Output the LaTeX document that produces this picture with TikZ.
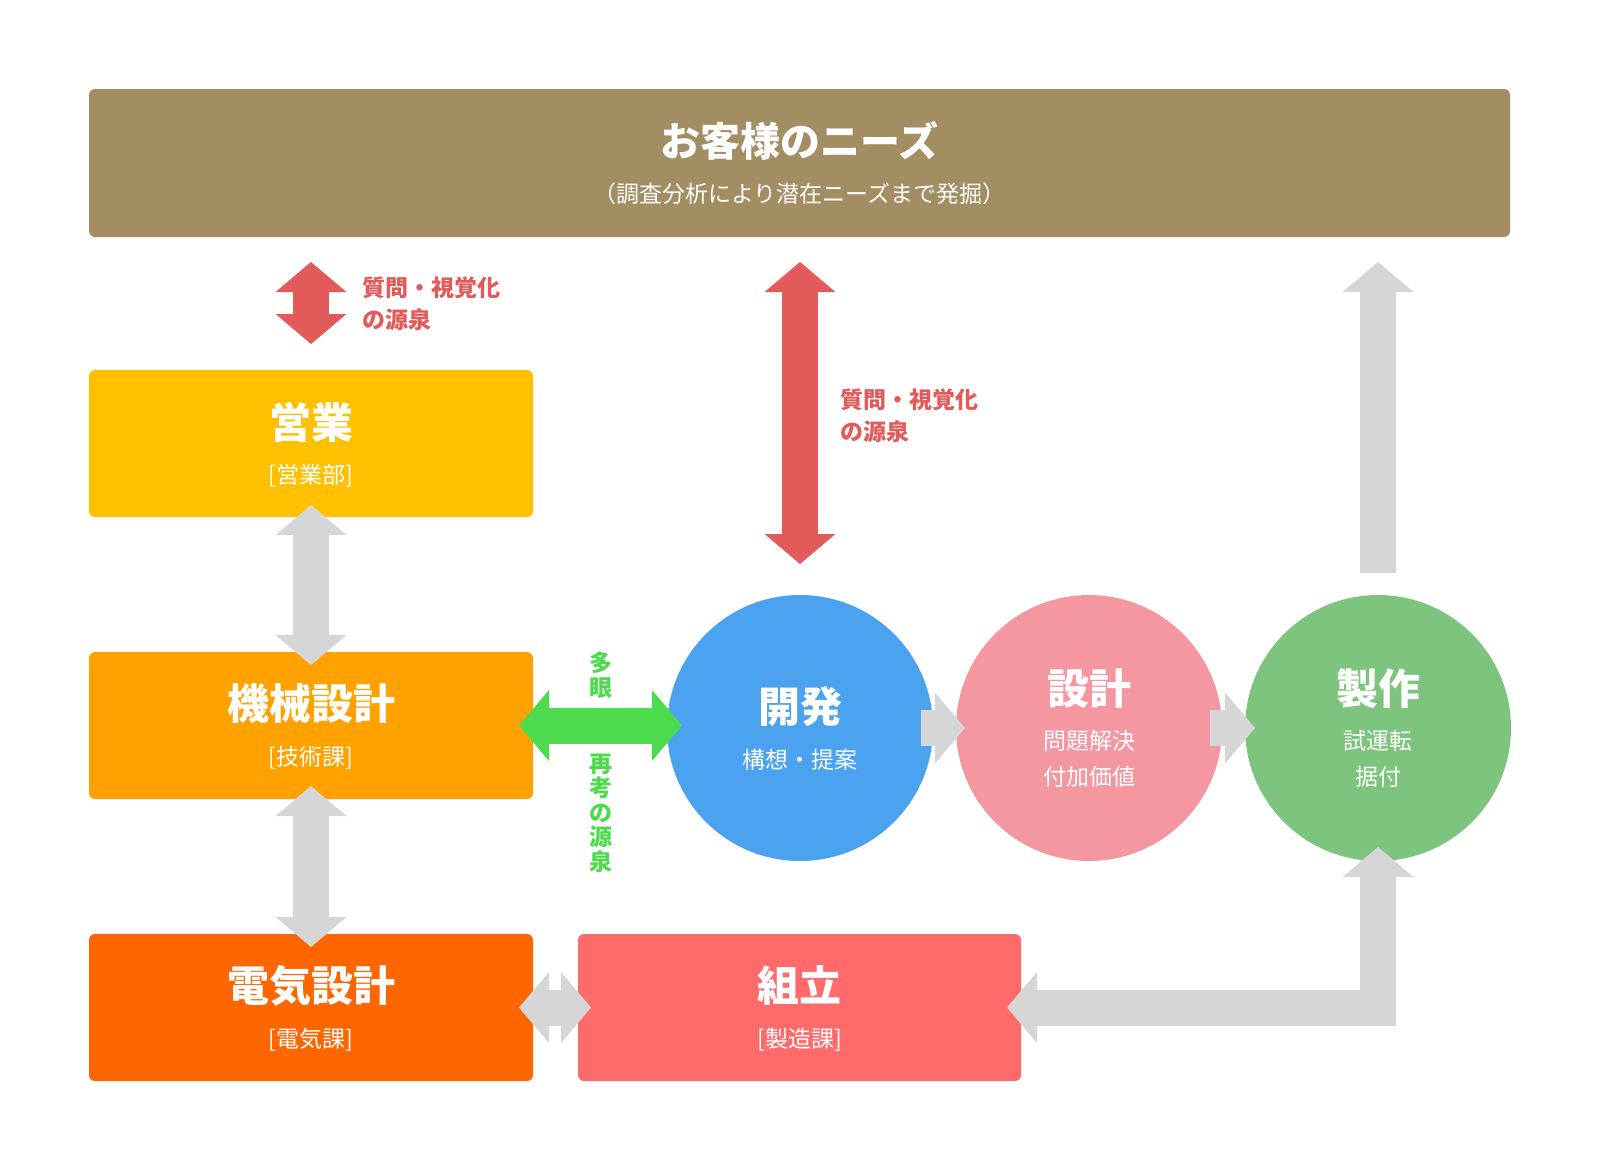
\documentclass[tikz,border=0pt]{standalone}
\usepackage{fontspec}
\setmainfont{Noto Sans CJK JP}
\usetikzlibrary{arrows.meta}
\definecolor{needsbrown}{HTML}{A38D62}
\definecolor{eigyoyellow}{HTML}{FFC000}
\definecolor{kikaiorange}{HTML}{FFA200}
\definecolor{denkiorange}{HTML}{FF6600}
\definecolor{kumitatered}{HTML}{FF6B6B}
\definecolor{kaihatsublue}{HTML}{4BA3F0}
\definecolor{sekkeipink}{HTML}{F497A1}
\definecolor{seisakugreen}{HTML}{7DC47F}
\definecolor{askred}{HTML}{E35A5A}
\definecolor{viewgreen}{HTML}{4CDB4C}
\definecolor{flowgray}{HTML}{D6D6D6}

\begin{document}
\begin{tikzpicture}[x=1pt, y=-1pt,
     >={Triangle[width=71pt, length=30pt, line width=0pt]},
     every node/.style = {inner sep=0pt, outer sep=0pt, text=white},
     dept/.style = {rectangle, rounded corners=6pt,
          minimum width=444pt, minimum height=147pt},
     stage/.style = {circle, minimum size=266pt},
     headline/.style = {font=\fontsize{42}{50}\selectfont\bfseries},
     subline/.style = {font=\fontsize{23}{36}\selectfont, align=center},
     fatline/.style = {line width=36pt},
     asklabel/.style = {text=askred, align=left,
          font=\fontsize{23}{32}\selectfont\bfseries},
     viewlabel/.style = {text=viewgreen, align=center,
          font=\fontsize{23}{24.5}\selectfont\bfseries}]
    \useasboundingbox (0,0) rectangle (1600,1170);

    \node [dept, fill=needsbrown, minimum width=1421pt, minimum height=148pt]
        at (799.5,163) (needs) {};
    \node [font=\fontsize{40}{48}\selectfont\bfseries]
        at ([yshift=22pt]needs.center) (needs-t) {お客様のニーズ};
    \node [font=\fontsize{23}{26}\selectfont]
        at ([yshift=-31pt]needs.center) (needs-s) {（調査分析により潜在ニーズまで発掘）};

    \node [dept, fill=eigyoyellow] at (311,443.5) (eigyo) {};
    \node [headline] at ([yshift=21.5pt]eigyo.center) (eigyo-t) {営業};
    \node [subline] at ([yshift=-32.5pt]eigyo.center) (eigyo-s) {[営業部]};

    \node [dept, fill=kikaiorange] at (311,725.5) (kikai) {};
    \node [headline] at ([yshift=21.5pt]kikai.center) (kikai-t) {機械設計};
    \node [subline] at ([yshift=-32.5pt]kikai.center) (kikai-s) {[技術課]};

    \node [dept, fill=denkiorange] at (311,1007.5) (denki) {};
    \node [headline] at ([yshift=21.5pt]denki.center) (denki-t) {電気設計};
    \node [subline] at ([yshift=-32.5pt]denki.center) (denki-s) {[電気課]};

    \node [dept, fill=kumitatered, minimum width=443pt]
        at (799.5,1007.5) (kumitate) {};
    \node [headline] at ([yshift=21.5pt]kumitate.center) (kumitate-t) {組立};
    \node [subline] at ([yshift=-32.5pt]kumitate.center) (kumitate-s) {[製造課]};

    \node [stage, fill=kaihatsublue] at (800,728) (kaihatsu) {};
    \node [headline] at ([yshift=21pt]kaihatsu.center) (kaihatsu-t) {開発};
    \node [subline] at ([yshift=-32pt]kaihatsu.center) (kaihatsu-s) {構想・提案};

    \node [stage, fill=sekkeipink] at (1089,728) (sekkei) {};
    \node [headline] at ([yshift=39pt]sekkei.center) (sekkei-t) {設計};
    \node [subline] at ([yshift=-31pt]sekkei.center) (sekkei-s) {問題解決\\付加価値};

    \node [stage, fill=seisakugreen] at (1378,728) (seisaku) {};
    \node [headline] at ([yshift=39pt]seisaku.center) (seisaku-t) {製作};
    \node [subline] at ([yshift=-31pt]seisaku.center) (seisaku-s) {試運転\\据付};

    \node [asklabel, anchor=west] at (362,304) (ask1) {質問・視覚化\\の源泉};
    \node [asklabel, anchor=west] at (840,415.5) (ask2) {質問・視覚化\\の源泉};
    \node [viewlabel] at (601,675) (view1) {多\\眼};
    \node [viewlabel] at (601,813) (view2) {再\\考\\の\\源\\泉};

    \coordinate (ask-top) at (eigyo.north |- needs.south);
    \coordinate (dev-top) at (kaihatsu.north |- needs.south);
    \coordinate (make-top) at (seisaku.north |- needs.south);
    \coordinate (dev-left) at (kikai.east -| kaihatsu.west);

    \draw [fatline, askred, <->] ([yshift=-25pt]ask-top) -- ([yshift=26pt]eigyo.north);
    \draw [fatline, askred, <->] ([yshift=-25pt]dev-top) -- ([yshift=31pt]kaihatsu.north);
    \draw [fatline, flowgray, <->] ([yshift=12pt]eigyo.south) -- ([yshift=-13pt]kikai.north);
    \draw [fatline, flowgray, <->] ([yshift=13pt]kikai.south) -- ([yshift=-13pt]denki.north);
    \draw [fatline, flowgray, <->] ([xshift=-14pt]denki.east) -- ([xshift=13pt]kumitate.west);
    \draw [fatline, viewgreen, <->] ([xshift=-14pt]kikai.east) -- ([xshift=15pt]dev-left);
    \draw [fatline, flowgray, ->] ([xshift=-12pt]kaihatsu.east) -- ([xshift=9pt]sekkei.west);
    \draw [fatline, flowgray, ->] ([xshift=-12pt]sekkei.east) -- ([xshift=10pt]seisaku.west);
    \draw [fatline, flowgray, ->] ([yshift=22pt]seisaku.north) -- ([yshift=-25pt]make-top);
    \draw [fatline, flowgray, <->, line join=miter]
        ([yshift=14pt]seisaku.south) |- ([xshift=-14pt]kumitate.east);
\end{tikzpicture}
\end{document}
